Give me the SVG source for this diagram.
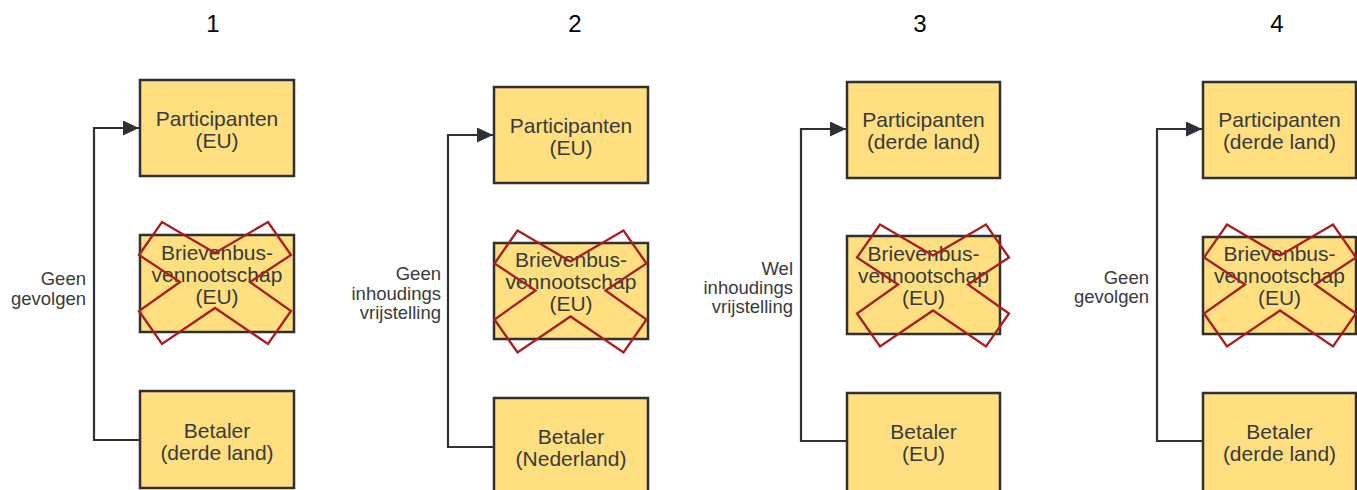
<svg xmlns="http://www.w3.org/2000/svg" width="1357" height="490" viewBox="0 0 1357 490">
<style>
.box{fill:#FFDF80;stroke:#2F2F35;stroke-width:2.5}
.t{font-family:"Liberation Sans",Arial,sans-serif;font-size:21px;fill:#3A3A3A;text-anchor:middle}
.lbl{font-family:"Liberation Sans",Arial,sans-serif;font-size:18.5px;fill:#3A3A3A;text-anchor:end}
.num{font-family:"Liberation Sans",Arial,sans-serif;font-size:24px;fill:#000;text-anchor:middle}
.x{fill:none;stroke:#AA1D1D;stroke-width:2.3;stroke-linejoin:miter}
.c{fill:none;stroke:#2F2F35;stroke-width:2.2}
</style>
<defs>
<marker id="ah" markerUnits="userSpaceOnUse" markerWidth="17" markerHeight="16" refX="16" refY="7.5" orient="auto">
<path d="M0,0 L16,7.5 L0,15 z" fill="#2F2F35"/>
</marker>
<polygon id="cross" points="-76,-28 -53,-61 0,-30 53,-61 76,-28 35,-1 76,28 53,61 0,25 -53,61 -76,28 -35,-1"/>
</defs>
<rect width="1357" height="490" fill="#fff"/>

<g id="titles">
<text class="num" x="213" y="32">1</text>
<text class="num" x="575" y="32">2</text>
<text class="num" x="920" y="32">3</text>
<text class="num" x="1277" y="32">4</text>
</g>

<g id="connectors">
<polyline class="c" points="140,440 94,440 94,128 139,128" marker-end="url(#ah)"/>
<polyline class="c" points="494,447 448,447 448,135 493,135" marker-end="url(#ah)"/>
<polyline class="c" points="847,441 801,441 801,129 846,129" marker-end="url(#ah)"/>
<polyline class="c" points="1203,441 1157,441 1157,129 1202,129" marker-end="url(#ah)"/>
</g>

<g id="labels">
<text class="lbl" x="86" y="285">Geen</text>
<text class="lbl" x="86" y="305">gevolgen</text>
<text class="lbl" x="441" y="280">Geen</text>
<text class="lbl" x="441" y="300">inhoudings</text>
<text class="lbl" x="441" y="319">vrijstelling</text>
<text class="lbl" x="793" y="275">Wel</text>
<text class="lbl" x="793" y="294">inhoudings</text>
<text class="lbl" x="793" y="313">vrijstelling</text>
<text class="lbl" x="1149" y="284">Geen</text>
<text class="lbl" x="1149" y="303">gevolgen</text>
</g>

<!-- Panel 1 -->
<g id="p1-participanten">
<rect class="box" x="140" y="80" width="154" height="96"/>
<text class="t" x="217" y="126">Participanten</text>
<text class="t" x="217" y="148">(EU)</text>
</g>
<g id="p1-brievenbus">
<rect class="box" x="140" y="235" width="154" height="97"/>
<text class="t" x="217" y="260">Brievenbus-</text>
<text class="t" x="217" y="282">vennootschap</text>
<text class="t" x="217" y="304">(EU)</text>
<use href="#cross" class="x" transform="translate(215,283)"/>
</g>
<g id="p1-betaler">
<rect class="box" x="140" y="391" width="154" height="97"/>
<text class="t" x="217" y="438">Betaler</text>
<text class="t" x="217" y="460">(derde land)</text>
</g>

<!-- Panel 2 -->
<g id="p2-participanten">
<rect class="box" x="494" y="87" width="154" height="96"/>
<text class="t" x="571" y="133">Participanten</text>
<text class="t" x="571" y="155">(EU)</text>
</g>
<g id="p2-brievenbus">
<rect class="box" x="494" y="243" width="154" height="96"/>
<text class="t" x="571" y="266.5">Brievenbus-</text>
<text class="t" x="571" y="288.5">vennootschap</text>
<text class="t" x="571" y="310.5">(EU)</text>
<use href="#cross" class="x" transform="translate(570.5,291.5)"/>
</g>
<g id="p2-betaler">
<rect class="box" x="494" y="398" width="154" height="100"/>
<text class="t" x="571" y="444">Betaler</text>
<text class="t" x="571" y="466">(Nederland)</text>
</g>

<!-- Panel 3 -->
<g id="p3-participanten">
<rect class="box" x="847" y="82" width="153" height="96"/>
<text class="t" x="923.5" y="127">Participanten</text>
<text class="t" x="923.5" y="149">(derde land)</text>
</g>
<g id="p3-brievenbus">
<rect class="box" x="847" y="236" width="153" height="98"/>
<text class="t" x="923.5" y="261">Brievenbus-</text>
<text class="t" x="923.5" y="283">vennootschap</text>
<text class="t" x="923.5" y="305">(EU)</text>
<use href="#cross" class="x" transform="translate(933,285.5)"/>
</g>
<g id="p3-betaler">
<rect class="box" x="847" y="393" width="153" height="100"/>
<text class="t" x="923.5" y="439">Betaler</text>
<text class="t" x="923.5" y="461">(EU)</text>
</g>

<!-- Panel 4 -->
<g id="p4-participanten">
<rect class="box" x="1203" y="82" width="153" height="96"/>
<text class="t" x="1279.5" y="127">Participanten</text>
<text class="t" x="1279.5" y="149">(derde land)</text>
</g>
<g id="p4-brievenbus">
<rect class="box" x="1203" y="237" width="153" height="97"/>
<text class="t" x="1279.5" y="261">Brievenbus-</text>
<text class="t" x="1279.5" y="283">vennootschap</text>
<text class="t" x="1279.5" y="305">(EU)</text>
<use href="#cross" class="x" transform="translate(1280,285.5)"/>
</g>
<g id="p4-betaler">
<rect class="box" x="1203" y="393" width="153" height="100"/>
<text class="t" x="1279.5" y="439">Betaler</text>
<text class="t" x="1279.5" y="461">(derde land)</text>
</g>
</svg>
